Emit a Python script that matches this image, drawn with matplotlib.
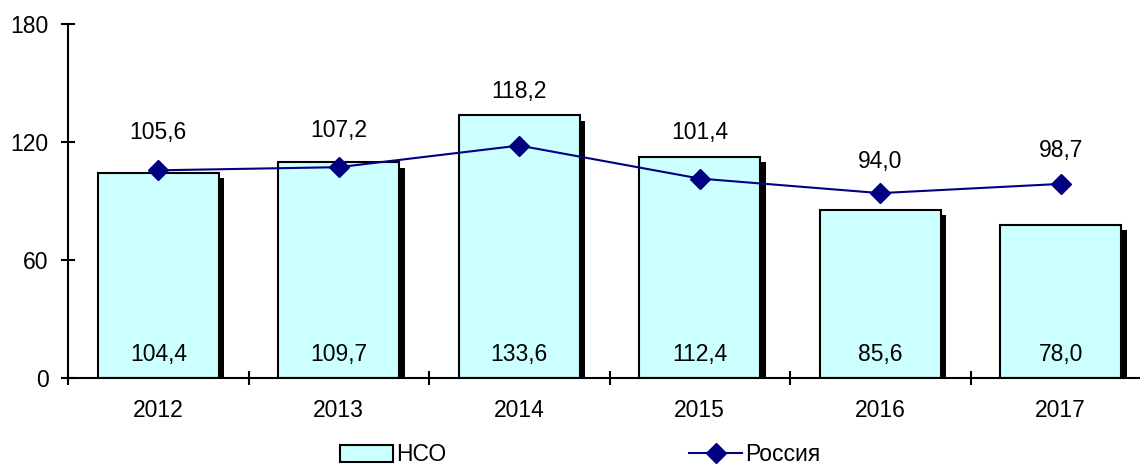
import numpy as np
import matplotlib.pyplot as plt
from matplotlib.patches import Patch
from matplotlib.lines import Line2D

plt.rcParams['font.family'] = ['Liberation Sans', 'DejaVu Sans']

# Данные
years = ['2012', '2013', '2014', '2015', '2016', '2017']
nso = [104.4, 109.7, 133.6, 112.4, 85.6, 78.0]
russia = [105.6, 107.2, 118.2, 101.4, 94.0, 98.7]
# высота подписей для ряда "Россия" (как на исходной картинке)
russia_label_y = [124.6, 126.0, 145.6, 124.6, 110.3, 115.9]

x = np.arange(len(years))
w = 0.67
fs = 16.5

fig = plt.figure(figsize=(11.4, 4.68), dpi=100)
ax = fig.add_axes([68 / 1140, 1 - 378 / 468, 1083 / 1140, 354 / 468])

# тень столбцов
ax.bar(x + 0.031, np.array(nso) - 2.8, width=w, bottom=0, color='black',
       edgecolor='none', zorder=1, clip_on=False)
ax.bar(x, nso, width=w, color='#CCFFFF', edgecolor='black', linewidth=1.5, zorder=2)
ax.plot(x, russia, color='#000080', linewidth=1.5, marker='D', markersize=10.5,
        zorder=3)

for xi, v in zip(x, nso):
    ax.text(xi, 12, f'{v:.1f}'.replace('.', ','), ha='center', va='center',
            fontsize=fs, zorder=4)
for xi, v, ly in zip(x, russia, russia_label_y):
    ax.text(xi, ly, f'{v:.1f}'.replace('.', ','), ha='center', va='center',
            fontsize=fs, zorder=4)

ax.set_xlim(-0.5, 5.5)
ax.set_ylim(0, 180)
ax.set_yticks([0, 60, 120, 180])
ax.set_xticks(x)
ax.set_xticklabels(years)
ax.set_xticks(np.arange(-0.5, 6, 1), minor=True)
ax.tick_params(axis='x', which='major', length=0, pad=15, labelsize=fs)
ax.tick_params(axis='x', which='minor', direction='inout', length=10, width=1.5)
ax.tick_params(axis='y', direction='inout', length=10, width=1.5, pad=9,
               labelsize=fs)

for s in ['top', 'right']:
    ax.spines[s].set_visible(False)
for s in ['left', 'bottom']:
    ax.spines[s].set_linewidth(1.5)

handles = [Patch(facecolor='#CCFFFF', edgecolor='black', linewidth=1.5),
           Line2D([0], [0], color='#000080', linewidth=1.5, marker='D', markersize=10.5)]
fig.legend(handles, ['НСО', 'Россия'], loc='center', bbox_to_anchor=(0.509, 0.028),
           ncol=2, frameon=False, fontsize=fs, handlelength=2.3, handleheight=0.72,
           handletextpad=0.15, columnspacing=10.6)

fig.savefig('out.png', dpi=100)
